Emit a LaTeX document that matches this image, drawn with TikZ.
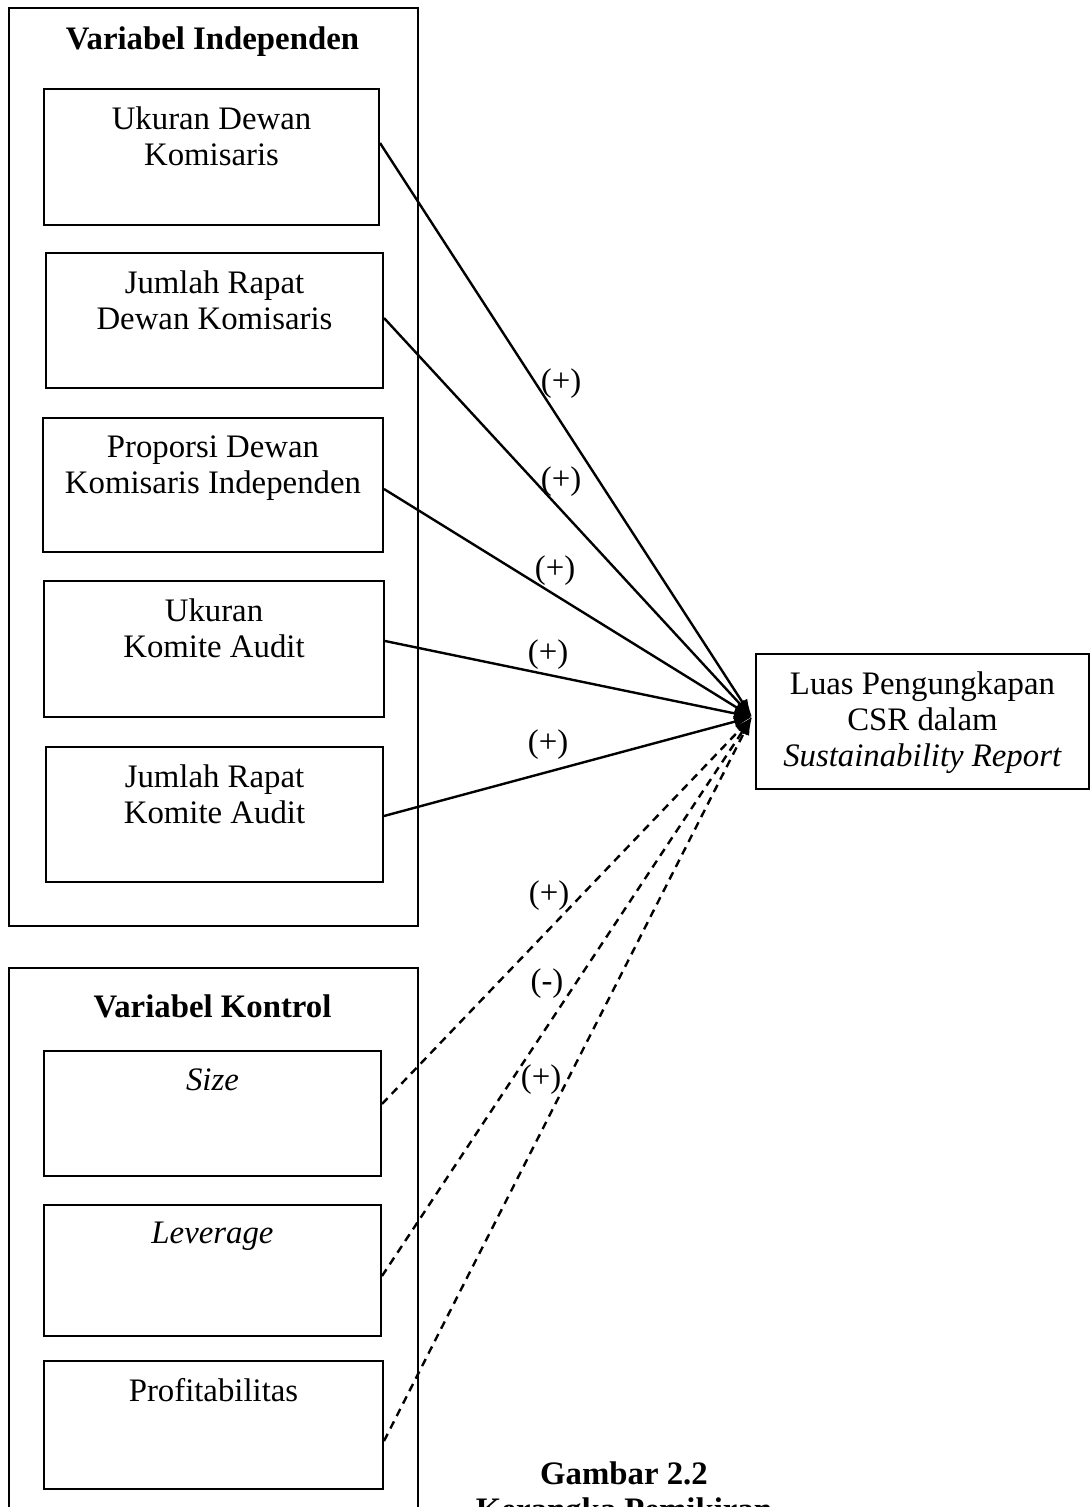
\documentclass[tikz,border=0pt]{standalone}
\usepackage{fontspec}
\setmainfont{Liberation Serif}
\usetikzlibrary{arrows.meta}

\newcommand{\figfont}{\fontsize{16.4}{18}\selectfont}

\tikzset{
  grp/.style={draw, line width=1pt, anchor=north west, inner sep=0pt},
  var/.style={draw, line width=1pt, anchor=north west, inner sep=0pt},
  vtext/.style={align=center, inner sep=0pt, anchor=north},
  ttl/.style={font=\figfont\bfseries, inner sep=0pt, anchor=base},
  sgn/.style={inner sep=0pt},
  lnk/.style={line width=1.2pt, -{Latex[length=9pt,width=6pt]}},
  ctl/.style={lnk, dash pattern=on 4pt off 3pt},
}

\begin{document}
\begin{tikzpicture}[x=0.5pt, y=-0.5pt, font=\figfont]
    \useasboundingbox (0,0) rectangle (1089,1507);

    % Variabel Independen
    \node[grp, minimum width=204.5pt, minimum height=459pt] (indep) at (8,7) {};
    \node[ttl] (indepttl) at (212.5,50) {Variabel Independen};

    \node[var, minimum width=167.5pt, minimum height=68pt] (ukd) at (43,88) {};
    \node[vtext] (ukdt) at ([yshift=-9pt]ukd.north) {Ukuran Dewan\\Komisaris};

    \node[var, minimum width=168.5pt, minimum height=67.5pt] (jrd) at (45,252) {};
    \node[vtext] (jrdt) at ([yshift=-9pt]jrd.north) {Jumlah Rapat\\Dewan Komisaris};

    \node[var, minimum width=170pt, minimum height=67pt] (pdki) at (42,417) {};
    \node[vtext] (pdkit) at ([yshift=-9pt]pdki.north) {Proporsi Dewan\\Komisaris Independen};

    \node[var, minimum width=170pt, minimum height=68pt] (uka) at (43,580) {};
    \node[vtext] (ukat) at ([yshift=-9pt]uka.north) {Ukuran\\Komite Audit};

    \node[var, minimum width=168.5pt, minimum height=67.5pt] (jrka) at (45,746) {};
    \node[vtext] (jrkat) at ([yshift=-9pt]jrka.north) {Jumlah Rapat\\Komite Audit};

    % Variabel Kontrol
    \node[grp, minimum width=204.5pt, minimum height=290pt] (kontrol) at (8,967) {};
    \node[ttl] (kontrolttl) at (212.5,1017) {Variabel Kontrol};

    \node[var, minimum width=168.5pt, minimum height=62.5pt] (size) at (43,1050) {};
    \node[vtext] (sizet) at ([yshift=-9pt]size.north) {\textit{Size}};

    \node[var, minimum width=168.5pt, minimum height=65.5pt] (lev) at (43,1204) {};
    \node[vtext] (levt) at ([yshift=-9pt]lev.north) {\textit{Leverage}};

    \node[var, minimum width=169.5pt, minimum height=64pt] (prof) at (43,1360) {};
    \node[vtext] (proft) at ([yshift=-9pt]prof.north) {Profitabilitas};

    % Variabel Dependen
    \node[var, minimum width=166.5pt, minimum height=67.5pt] (csr) at (755,653) {};
    \node[vtext] (csrt) at ([yshift=-9pt]csr.north) {Luas Pengungkapan\\CSR dalam\\\textit{Sustainability Report}};
    \coordinate (tip) at (752,717);

    % Arrows
    \draw[lnk] ([yshift=7pt]ukd.east) -- (tip);
    \draw[lnk] ([yshift=1.25pt]jrd.east) -- (tip);
    \draw[lnk] ([yshift=-2pt]pdki.east) -- (tip);
    \draw[lnk] ([yshift=4pt]uka.east) -- (tip);
    \draw[lnk] ([yshift=-0.75pt]jrka.east) -- (tip);
    \draw[ctl] ([yshift=4.75pt]size.east) -- (tip);
    \draw[ctl] ([yshift=-2.75pt]lev.east) -- (tip);
    \draw[ctl] ([yshift=-8pt]prof.east) -- (tip);

    % Signs
    \node[sgn] (s1) at (561,384) {(+)};
    \node[sgn] (s2) at (561,482) {(+)};
    \node[sgn] (s3) at (555,571) {(+)};
    \node[sgn] (s4) at (548,655) {(+)};
    \node[sgn] (s5) at (548,745) {(+)};
    \node[sgn] (s6) at (549,896) {(+)};
    \node[sgn] (s7) at (547,984) {(-)};
    \node[sgn] (s8) at (541,1080) {(+)};

    % Caption
    \node[vtext, font=\figfont\bfseries] (cap) at (624,1461.5) {Gambar 2.2\\Kerangka Pemikiran};
\end{tikzpicture}
\end{document}
